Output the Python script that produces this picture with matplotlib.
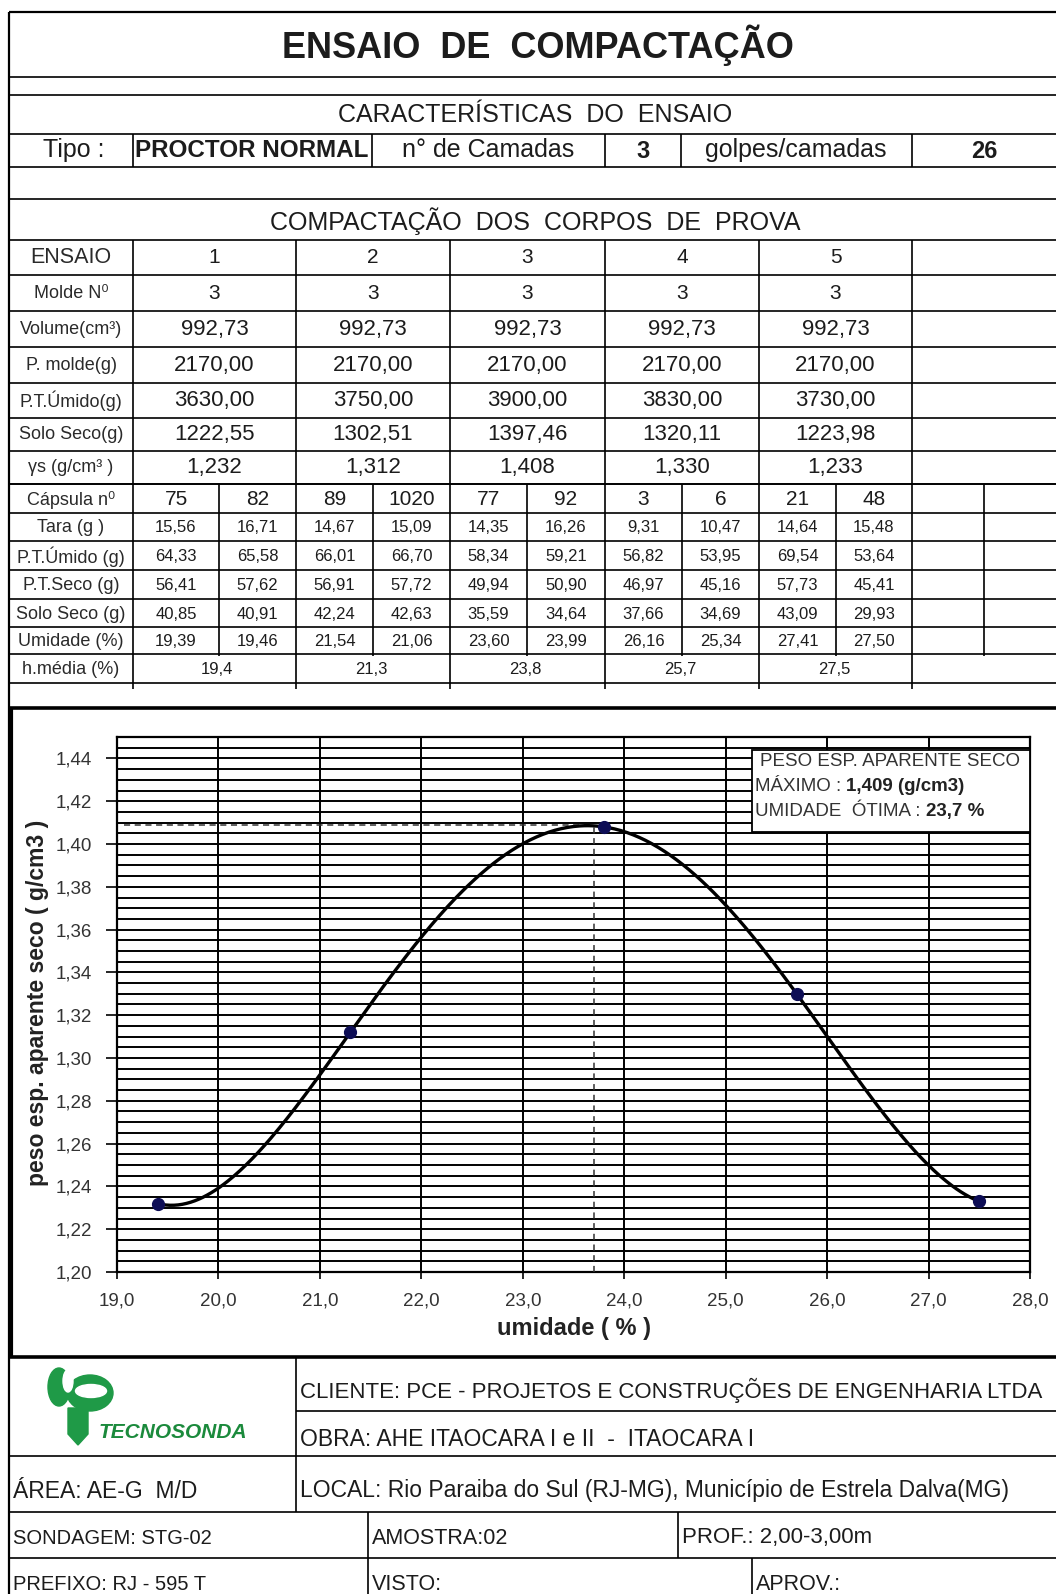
import numpy as np
import matplotlib.pyplot as plt
from matplotlib.patches import Rectangle, Ellipse, Polygon
from matplotlib.ticker import MultipleLocator, FuncFormatter

plt.rcParams['font.family'] = ['Liberation Sans', 'DejaVu Sans']

# ---------------- data ----------------
tipo = "PROCTOR NORMAL"
n_camadas = 3
golpes = 26

ensaio = [1, 2, 3, 4, 5]
molde = [3, 3, 3, 3, 3]
volume = [992.73, 992.73, 992.73, 992.73, 992.73]
p_molde = [2170.00, 2170.00, 2170.00, 2170.00, 2170.00]
pt_umido = [3630.00, 3750.00, 3900.00, 3830.00, 3730.00]
solo_seco = [1222.55, 1302.51, 1397.46, 1320.11, 1223.98]
gama_s = [1.232, 1.312, 1.408, 1.330, 1.233]

capsula = [75, 82, 89, 1020, 77, 92, 3, 6, 21, 48]
tara = [15.56, 16.71, 14.67, 15.09, 14.35, 16.26, 9.31, 10.47, 14.64, 15.48]
pt_umido_cap = [64.33, 65.58, 66.01, 66.70, 58.34, 59.21, 56.82, 53.95, 69.54, 53.64]
pt_seco_cap = [56.41, 57.62, 56.91, 57.72, 49.94, 50.90, 46.97, 45.16, 57.73, 45.41]
solo_seco_cap = [40.85, 40.91, 42.24, 42.63, 35.59, 34.64, 37.66, 34.69, 43.09, 29.93]
umidade = [19.39, 19.46, 21.54, 21.06, 23.60, 23.99, 26.16, 25.34, 27.41, 27.50]
h_media = [19.4, 21.3, 23.8, 25.7, 27.5]

peso_max = 1.409
umid_otima = 23.7

rodape = {
    "cliente": "CLIENTE: PCE - PROJETOS E CONSTRUÇÕES DE ENGENHARIA LTDA",
    "obra": "OBRA: AHE ITAOCARA I e II  -  ITAOCARA I",
    "area": "ÁREA: AE-G  M/D",
    "local": "LOCAL: Rio Paraiba do Sul (RJ-MG), Município de Estrela Dalva(MG)",
    "sondagem": "SONDAGEM: STG-02",
    "amostra": "AMOSTRA:02",
    "prof": "PROF.: 2,00-3,00m",
    "prefixo": "PREFIXO: RJ - 595 T",
    "visto": "VISTO:",
    "aprov": "APROV.:",
}


def fmt(v, nd):
    return f"{v:.{nd}f}".replace('.', ',')


# ---------------- page ----------------
W, H = 1056, 1594
fig = plt.figure(figsize=(W / 100, H / 100), dpi=100)
page = fig.add_axes([0, 0, 1, 1])
page.set_xlim(0, W)
page.set_ylim(H, 0)
page.axis('off')

TXT = '#1c1c1c'


def hline(y, x0=9, x1=W, lw=1.2):
    page.plot([x0, x1], [y, y], color='k', lw=lw, solid_capstyle='butt')


def vline(x, y0, y1, lw=1.2):
    page.plot([x, x], [y0, y1], color='k', lw=lw, solid_capstyle='butt')


def txt(x, y, s, size=12, weight='normal', ha='center', color=TXT, **kw):
    return page.text(x, y, s, ha=ha, va='center', fontsize=size,
                     fontweight=weight, color=color, **kw)


# outer border
hline(12, lw=1.6)
vline(9, 12, H, lw=1.6)

# title block
txt(538, 45, "ENSAIO  DE  COMPACTAÇÃO", size=26, weight='bold')
hline(77)
hline(95)
txt(535, 115, "CARACTERÍSTICAS  DO  ENSAIO", size=18)
hline(134)
hline(167)
for x in [133, 372, 605, 681, 912]:
    vline(x, 134, 167)
txt(74, 150, "Tipo :", size=18)
txt(135, 150, tipo, size=17.5, weight='bold', ha='left')
txt(488, 150, "n° de Camadas", size=18)
txt(643, 151, str(n_camadas), size=17, weight='bold')
txt(796, 150, "golpes/camadas", size=18)
txt(984, 151, str(golpes), size=17, weight='bold')
hline(199)
txt(535, 221, "COMPACTAÇÃO  DOS  CORPOS  DE  PROVA", size=18)

# main table
col_edges = [133, 296, 450, 605, 759, 912]
col_mid = [(a + b) / 2 for a, b in zip(col_edges[:-1], col_edges[1:])]
sub_edges = [133, 219, 296, 373, 450, 527, 605, 682, 759, 836, 912]
sub_mid = [(a + b) / 2 for a, b in zip(sub_edges[:-1], sub_edges[1:])]

up_rows = [240, 275, 311, 347, 383, 418, 451, 484]
up_labels = ["ENSAIO", "Molde N⁰", "Volume(cm³)", "P. molde(g)",
             "P.T.Úmido(g)", "Solo Seco(g)", "γs (g/cm³ )"]
up_values = [
    [str(v) for v in ensaio],
    [str(v) for v in molde],
    [fmt(v, 2) for v in volume],
    [fmt(v, 2) for v in p_molde],
    [fmt(v, 2) for v in pt_umido],
    [fmt(v, 2) for v in solo_seco],
    [fmt(v, 3) for v in gama_s],
]
for y in up_rows:
    hline(y)
for i, (lab, vals) in enumerate(zip(up_labels, up_values)):
    yc = (up_rows[i] + up_rows[i + 1]) / 2
    txt(71, yc, lab, size=15.5 if i == 0 else 13, color='#2a2a2a')
    for x, v in zip(col_mid, vals):
        txt(x, yc, v, size=15 if i < 2 else 16)

lo_rows = [484, 513, 541, 570, 599, 627, 654, 683]
lo_labels = ["Cápsula n⁰", "Tara (g )", "P.T.Úmido (g)", "P.T.Seco (g)",
             "Solo Seco (g)", "Umidade (%)"]
lo_values = [
    [str(v) for v in capsula],
    [fmt(v, 2) for v in tara],
    [fmt(v, 2) for v in pt_umido_cap],
    [fmt(v, 2) for v in pt_seco_cap],
    [fmt(v, 2) for v in solo_seco_cap],
    [fmt(v, 2) for v in umidade],
]
for y in lo_rows:
    hline(y)
for i, (lab, vals) in enumerate(zip(lo_labels, lo_values)):
    yc = (lo_rows[i] + lo_rows[i + 1]) / 2 + 1
    txt(71, yc, lab, size=13, color='#2a2a2a')
    for x, v in zip(sub_mid, vals):
        txt(x, yc, v, size=15 if i == 0 else 12)
yc = (lo_rows[6] + lo_rows[7]) / 2 + 1
txt(71, yc, "h.média (%)", size=13, color='#2a2a2a')
for x, v in zip(sub_edges[1::2], h_media):
    txt(x - 2, yc, fmt(v, 1), size=12)

vline(133, 240, 689)
for x in col_edges[1:]:
    vline(x, 240, 689)
for x in sub_edges[1::2] + [984]:
    vline(x, 484, 656)

# ---------------- chart section ----------------
hline(708, x0=9, lw=2.6)
vline(11, 708, 1357, lw=3)
hline(1357, x0=9, lw=2.6)

ax = fig.add_axes([117 / W, 1 - 1272 / H, 913 / W, 535 / H])
ax.set_xlim(19.0, 28.0)
ax.set_ylim(1.20, 1.45)
ax.xaxis.set_major_locator(MultipleLocator(1.0))
ax.yaxis.set_major_locator(MultipleLocator(0.02))
ax.yaxis.set_minor_locator(MultipleLocator(0.005))
ax.grid(axis='y', which='both', color='k', lw=1.4, zorder=1)
ax.grid(axis='x', which='major', color='k', lw=1.4, zorder=1)
ax.set_axisbelow(True)
for s in ax.spines.values():
    s.set_linewidth(1.6)
ax.tick_params(axis='y', which='major', direction='out', length=8, width=1.2,
               pad=10, labelsize=13.5, labelcolor='#333333')
ax.tick_params(axis='x', which='major', direction='out', length=5, width=1.2,
               pad=10, labelsize=13.5, labelcolor='#333333')
ax.tick_params(which='minor', length=0)
ax.yaxis.set_major_formatter(FuncFormatter(lambda v, p: fmt(v, 2)))
ax.xaxis.set_major_formatter(FuncFormatter(lambda v, p: fmt(v, 1)))
ax.set_ylim(1.20, 1.45)

# optimum markers
ax.plot([19.07, umid_otima], [peso_max, peso_max], color='#333333', lw=1.1,
        ls=(0, (4, 3)), zorder=3)
ax.plot([umid_otima, umid_otima], [1.20, peso_max], color='#333333', lw=1.1,
        ls=(0, (4, 3)), zorder=3)

# compaction curve
coef = np.polyfit(h_media, gama_s, 4)
xs = np.linspace(min(h_media), max(h_media), 400)
ax.plot(xs, np.polyval(coef, xs), color='k', lw=2.4, zorder=4)
ax.plot(h_media, gama_s, 'o', color='#0d0d55', ms=8.5, zorder=5)

# result box
ax.add_patch(Rectangle((752, 750), 278, 82, transform=page.transData,
                       facecolor='white', edgecolor='k', lw=1.3, zorder=6))
ax.text(760, 761, "PESO ESP. APARENTE SECO", transform=page.transData,
        fontsize=13.5, color='#333333', va='center', ha='left', zorder=7)
t1 = ax.text(755, 786, "MÁXIMO :", transform=page.transData,
             fontsize=13.5, color='#333333', va='center', ha='left', zorder=7)
t2 = ax.text(755, 811, "UMIDADE  ÓTIMA :", transform=page.transData,
             fontsize=13.5, color='#333333', va='center', ha='left', zorder=7)
fig.canvas.draw()
inv = page.transData.inverted()
x1 = inv.transform((t1.get_window_extent().x1, 0))[0]
x2 = inv.transform((t2.get_window_extent().x1, 0))[0]
ax.text(x1 + 5, 786, f"{fmt(peso_max, 3)} (g/cm3)", transform=page.transData,
        fontsize=13.5, fontweight='bold', color='#222222', va='center',
        ha='left', zorder=7)
ax.text(x2 + 5, 811, f"{fmt(umid_otima, 1)} %", transform=page.transData,
        fontsize=13.5, fontweight='bold', color='#222222', va='center',
        ha='left', zorder=7)

txt(38, 1003, "peso esp. aparente seco ( g/cm3 )", size=16.5, weight='bold',
    rotation=90, color='#222222')
txt(574, 1328, "umidade ( % )", size=17, weight='bold', color='#222222')

# ---------------- footer ----------------
hline(1411, x0=296)
hline(1456)
hline(1512)
hline(1558)
vline(296, 1357, 1512)
vline(368, 1512, H)
vline(678, 1512, 1558)
vline(752, 1558, H)

green = '#1f9a47'
page.add_patch(Ellipse((90, 1393), 46, 36, color=green))
page.add_patch(Ellipse((91, 1391), 31, 13, color='white'))
page.add_patch(Ellipse((59, 1387), 22, 38, color=green))
page.add_patch(Ellipse((68, 1381), 10, 22, color='white'))
page.add_patch(Polygon([(68, 1408), (88, 1408), (88, 1434), (78, 1445),
                        (68, 1434)], closed=True, color=green))
txt(99, 1432, "TECNOSONDA", size=15, weight='bold', ha='left', color='#1b8a3c',
    style='italic')

txt(300, 1390, rodape["cliente"], size=16, ha='left')
txt(300, 1440, rodape["obra"], size=16.5, ha='left')
txt(13, 1491, rodape["area"], size=16.5, ha='left')
txt(300, 1491, rodape["local"], size=16.5, ha='left')
txt(13, 1538, rodape["sondagem"], size=14.5, ha='left')
txt(372, 1538, rodape["amostra"], size=15.5, ha='left')
txt(682, 1538, rodape["prof"], size=16, ha='left')
txt(13, 1584, rodape["prefixo"], size=14.5, ha='left')
txt(372, 1584, rodape["visto"], size=15.5, ha='left')
txt(756, 1584, rodape["aprov"], size=15.5, ha='left')

fig.savefig("out.png", dpi=100, facecolor='white')
